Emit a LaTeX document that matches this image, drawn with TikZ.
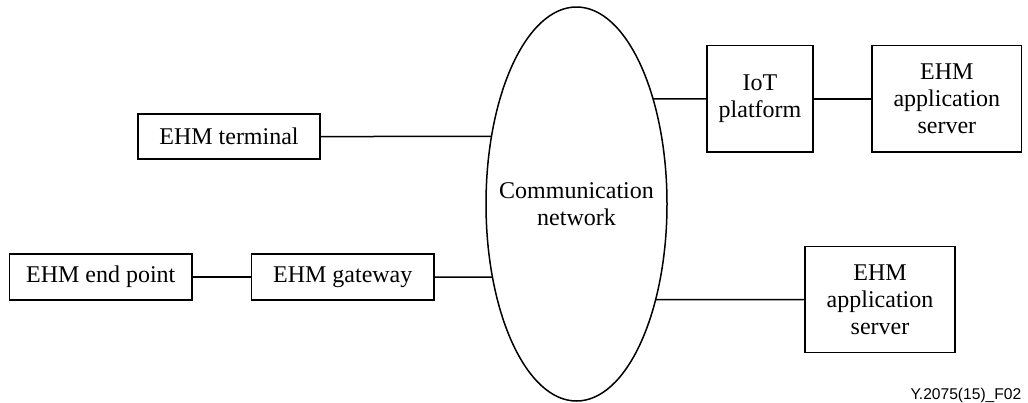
\documentclass[tikz,border=0pt]{standalone}
\usepackage{fontspec}
\setmainfont{Liberation Serif}
\newfontfamily\labelfont{Liberation Sans}
\usetikzlibrary{shapes.geometric,intersections}
\begin{document}
\begin{tikzpicture}[x=0.5pt,y=-0.5pt,line width=0.75pt,
  box/.style={draw, rectangle, inner sep=0pt, align=center, font=\fontsize{12}{13.3}\selectfont},
  link/.style={draw, line width=0.75pt}]
\useasboundingbox (0,0) rectangle (1028,402);
% boxes
\node[box, minimum width=91pt, minimum height=22.5pt] (term) at (229,136.5) {EHM terminal};
\node[box, minimum width=91.25pt, minimum height=23pt] (endp) at (100.75,277) {EHM end point};
\node[box, minimum width=91.25pt, minimum height=23pt] (gw) at (342.75,277) {EHM gateway};
\node[box, minimum width=52.85pt, minimum height=53.15pt] (iot) at (760,98.85) {IoT\\platform};
\node[box, minimum width=74.85pt, minimum height=53.15pt] (app1) at (946.85,98.85) {EHM\\application\\server};
\node[box, minimum width=75pt, minimum height=53pt] (app2) at (880,299.7) {EHM\\application\\server};
% network ellipse
\node[draw, ellipse, inner sep=0pt, minimum width=90.5pt, minimum height=197pt, name path=ell,
  label={[align=center, inner sep=0pt, font=\fontsize{12}{13.3}\selectfont]center:{Communication\\network}}]
  (net) at (576.5,204) {};
% helper paths to find border points
\path[name path=h1] (term.east) -- ++(200,0);
\path[name path=h2] (gw.east) -- ++(100,0);
\path[name path=h3] (iot.west) -- ++(-100,0);
\path[name path=h4] (app2.west) -- ++(-200,0);
\path[name intersections={of=ell and h1, by={c1}}];
\path[name intersections={of=ell and h2, by={c2}}];
\path[name intersections={of=ell and h3, by={c3}}];
\path[name intersections={of=ell and h4, by={c4}}];
% connectors
\draw[link] (term.east) -- (c1);
\draw[link] (endp.east) -- (gw.west);
\draw[link] (gw.east) -- (c2);
\draw[link] (c3) -- (iot.west);
\draw[link] (iot.east) -- (app1.west);
\draw[link] (c4) -- (app2.west);
% figure label
\node[anchor=base east, inner sep=0pt, font=\labelfont\fontsize{7.8}{9}\selectfont] (fig) at (1022,399) {Y.2075(15)\_F02};
\end{tikzpicture}
\end{document}
